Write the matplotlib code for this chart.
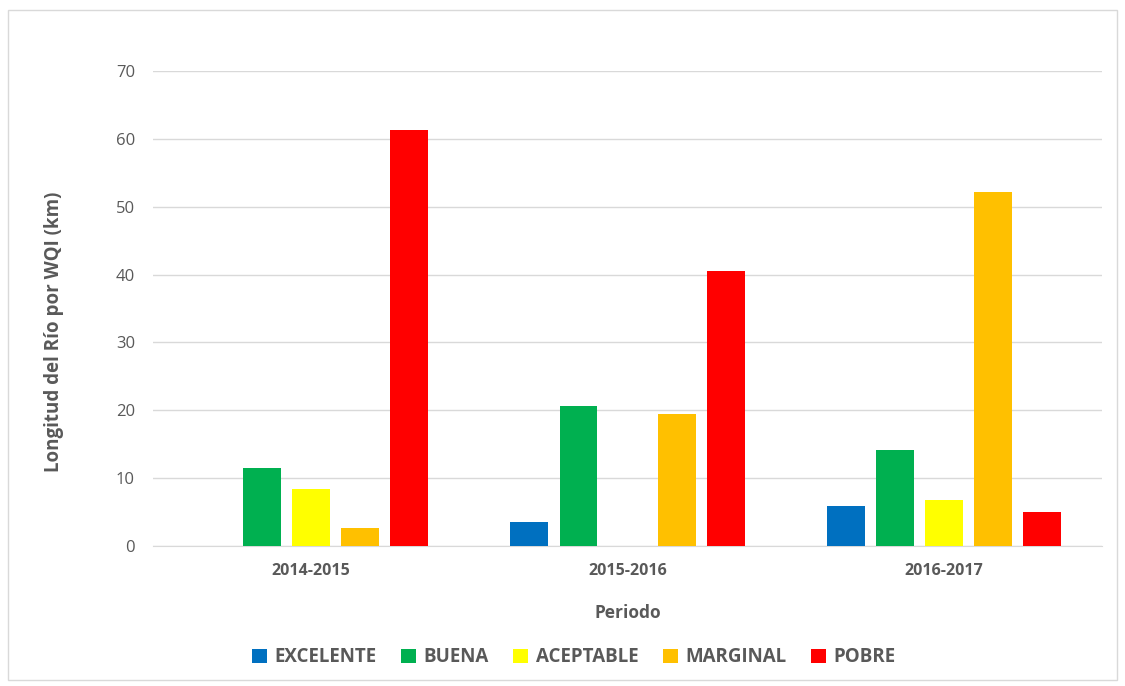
import numpy as np
import matplotlib.pyplot as plt
from matplotlib.patches import Rectangle

plt.rcParams['font.family'] = ['Open Sans', 'DejaVu Sans']

periodos = ['2014-2015', '2015-2016', '2016-2017']
categorias = ['EXCELENTE', 'BUENA', 'ACEPTABLE', 'MARGINAL', 'POBRE']
colores = ['#0070C0', '#00B050', '#FFFF00', '#FFC000', '#FF0000']

excelente = [0, 3.5, 5.9]
buena = [11.5, 20.6, 14.1]
aceptable = [8.4, 0, 6.8]
marginal = [2.6, 19.5, 52.2]
pobre = [61.3, 40.5, 5.0]
series = [excelente, buena, aceptable, marginal, pobre]

gris = '#595959'

fig = plt.figure(figsize=(11.25, 6.86), dpi=100)
ax = fig.add_axes([0.136, 0.204, 0.8436, 0.6925])

x = np.arange(len(periodos))
paso = 0.155
ancho = 0.12
for i, (nombre, valores, c) in enumerate(zip(categorias, series, colores)):
    ax.bar(x + (i - 2) * paso, valores, ancho, color=c, label=nombre, zorder=3)

ax.set_xlim(-0.5, 2.5)
ax.set_ylim(0, 70)
ax.set_yticks(range(0, 71, 10))
ax.yaxis.grid(True, color='#D9D9D9', linewidth=1, zorder=0)
ax.set_xticks(x)
ax.set_xticklabels(periodos, fontsize=11.5, fontweight='bold', color=gris)
ax.tick_params(axis='y', labelsize=12, colors=gris, length=0, pad=13)
ax.tick_params(axis='x', length=0, pad=12)
for s in ['top', 'right', 'left']:
    ax.spines[s].set_visible(False)
ax.spines['bottom'].set_color('#D9D9D9')

ax.set_xlabel('Periodo', fontsize=12.5, fontweight='bold', color=gris, labelpad=18)
ax.set_ylabel('Longitud del Río por WQI (km)', fontsize=13.5, fontweight='bold',
              color=gris)
ax.yaxis.set_label_coords(-0.094, 0.452)

fig.legend(loc='center', bbox_to_anchor=(0.51, 0.042), ncol=5, frameon=False,
           handlelength=0.8, handleheight=0.8, handletextpad=0.4,
           columnspacing=1.3, prop={'weight': 'bold', 'size': 13.5},
           labelcolor=gris)

fig.patches.append(Rectangle((8 / 1125, 1 - 680 / 686), 1109 / 1125, 670 / 686,
                             transform=fig.transFigure, fill=False,
                             edgecolor='#D9D9D9', linewidth=1))

fig.savefig('out.png', dpi=100)
